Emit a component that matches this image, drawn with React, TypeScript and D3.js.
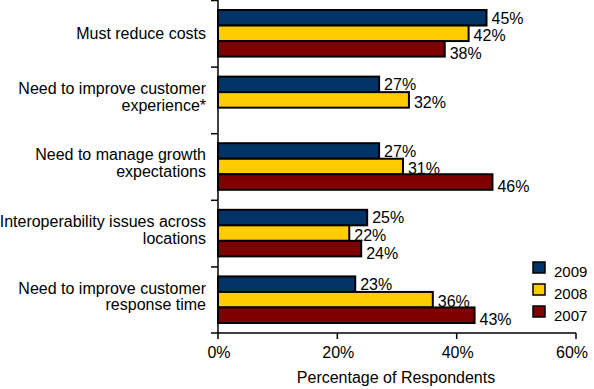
import React, { useRef, useEffect } from 'react'
import * as d3 from 'd3'

const categories = [
  ['Must reduce costs'],
  ['Need to improve customer', 'experience*'],
  ['Need to manage growth', 'expectations'],
  ['Interoperability issues across', 'locations'],
  ['Need to improve customer', 'response time'],
]
const seriesNames = ['2009', '2008', '2007']
const v2009 = [45, 27, 27, 25, 23]
const v2008 = [42, 32, 31, 22, 36]
const v2007 = [38, null, 46, 24, 43]
const xTicks = [0, 20, 40, 60]

const colors = ['#003366', '#ffcc00', '#800000']
// excel nudges the labels of lower bars a bit downward
const labelDy = [0, 2, 4.5]

const App = () => {
  const ref = useRef<SVGSVGElement>(null)

  useEffect(() => {
    const svg = d3.select(ref.current)
    svg.selectAll('*').remove()
    const width = 594
    const height = 389
    const margin = { top: 0, right: 18, bottom: 56, left: 218 }
    const font = 'Arial, "Liberation Sans", sans-serif'

    const values = [v2009, v2008, v2007]
    const keys = categories.map((c, i) => String(i))

    const x = d3.scaleLinear().domain([0, 60]).range([margin.left, width - margin.right])
    const y0 = d3.scaleBand().domain(keys).range([margin.top, height - margin.bottom])
    const y1 = d3.scaleBand().domain(seriesNames).range([0, y0.bandwidth()]).paddingOuter(0.645)

    const g = svg.append('g')

    // bars
    seriesNames.forEach((s, si) => {
      values[si].forEach((v, ci) => {
        if (v == null) return
        const yy = y0(String(ci))! + y1(s)!
        g.append('rect')
          .attr('x', x(0))
          .attr('y', yy)
          .attr('width', x(v) - x(0))
          .attr('height', y1.bandwidth())
          .attr('fill', colors[si])
          .attr('stroke', '#000')
          .attr('stroke-width', 2)
        g.append('text')
          .attr('x', x(v) + 5)
          .attr('y', yy + y1.bandwidth() / 2 + labelDy[si])
          .attr('dy', '0.36em')
          .attr('font-family', font)
          .attr('font-size', 16)
          .text(v + '%')
      })
    })

    // y axis
    g.append('line')
      .attr('x1', x(0)).attr('x2', x(0))
      .attr('y1', margin.top).attr('y2', height - margin.bottom)
      .attr('stroke', '#000').attr('stroke-width', 1.5)
    keys.forEach((k) => {
      g.append('line')
        .attr('x1', x(0) - 7).attr('x2', x(0))
        .attr('y1', y0(k)! + 0.5).attr('y2', y0(k)! + 0.5)
        .attr('stroke', '#000').attr('stroke-width', 1.5)
    })
    categories.forEach((lines, ci) => {
      const cy = y0(String(ci))! + y0.bandwidth() / 2 - (lines.length > 1 ? 3.5 : 0)
      const t = g.append('text')
        .attr('text-anchor', 'end')
        .attr('font-family', font)
        .attr('font-size', 16)
      lines.forEach((ln, li) => {
        t.append('tspan')
          .attr('x', 206)
          .attr('y', cy + (li - (lines.length - 1) / 2) * 16.7)
          .attr('dy', '0.36em')
          .text(ln)
      })
    })

    // x axis
    const yAx = height - margin.bottom
    g.append('line')
      .attr('x1', x(0) - 7).attr('x2', x(60))
      .attr('y1', yAx).attr('y2', yAx)
      .attr('stroke', '#000').attr('stroke-width', 1.5)
    xTicks.forEach((t) => {
      g.append('line')
        .attr('x1', x(t)).attr('x2', x(t))
        .attr('y1', yAx).attr('y2', yAx + 6)
        .attr('stroke', '#000').attr('stroke-width', 1.5)
      g.append('text')
        .attr('x', t === 60 ? x(t) - 4 : x(t) + 1)
        .attr('y', 358)
        .attr('text-anchor', 'middle')
        .attr('font-family', font)
        .attr('font-size', 16)
        .text(t + '%')
    })
    g.append('text')
      .attr('x', 396)
      .attr('y', 383)
      .attr('text-anchor', 'middle')
      .attr('font-family', font)
      .attr('font-size', 16)
      .text('Percentage of Respondents')

    // legend
    seriesNames.forEach((s, si) => {
      const ly = 262 + si * 22
      g.append('rect')
        .attr('x', 533).attr('y', ly)
        .attr('width', 12).attr('height', 11)
        .attr('fill', colors[si])
        .attr('stroke', '#000').attr('stroke-width', 1.5)
      g.append('text')
        .attr('x', 554).attr('y', ly + 14.5)
        .attr('font-family', font)
        .attr('font-size', 15)
        .text(s)
    })
  }, [])

  return (
    <svg ref={ref} width={594} height={389}
      style={{ position: 'absolute', left: 0, top: 0, background: '#fff' }} />
  )
}

export default App
